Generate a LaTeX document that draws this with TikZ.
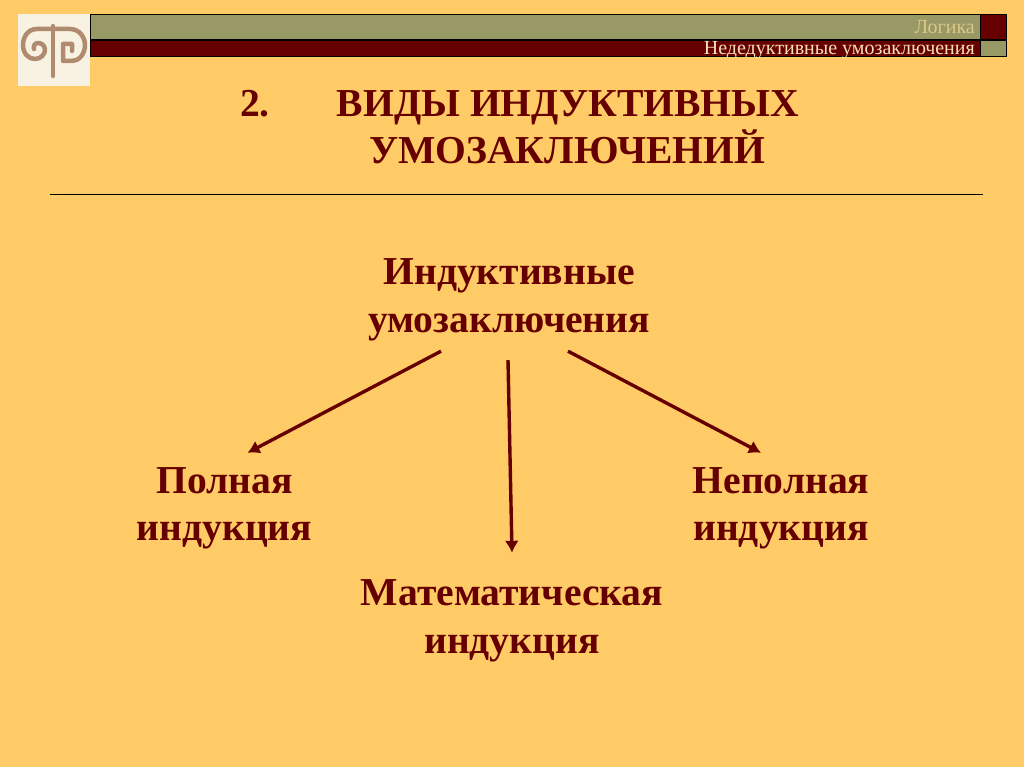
\documentclass[tikz,border=0pt]{standalone}
\usepackage{fontspec}
\setmainfont{Liberation Serif}
\usepackage{xcolor}
\usetikzlibrary{arrows.meta,positioning,calc}
\definecolor{bgcol}{HTML}{FFCB66}
\definecolor{darkred}{HTML}{660000}
\definecolor{olivebar}{HTML}{999966}
\definecolor{logocol}{HTML}{B08B70}
\definecolor{logobg}{HTML}{F8F2E2}
\definecolor{paletext}{HTML}{DCC688}
\definecolor{lighttext}{HTML}{F6E0B8}
\begin{document}
\begin{tikzpicture}[
  x=1pt, y=-1pt,
  label/.style={align=center, text=darkred, font=\fontsize{39.6}{47.5}\selectfont\bfseries, inner sep=0pt},
  head/.style={align=center, text=darkred, font=\fontsize{39.6}{48}\selectfont\bfseries, inner sep=0pt},
  bar/.style={draw=black, line width=1pt},
  arr/.style={-{Latex[length=12pt,width=14pt]}, line width=3.4pt, darkred},
  logoline/.style={draw=logocol, line width=4.5pt, line cap=round, line join=round}
]
  \useasboundingbox (0,0) rectangle (1024,767);
  \fill[bgcol] (0,0) rectangle (1024,767);

  % top bars
  \draw[bar, fill=olivebar] (90,15) rectangle (980,40);
  \draw[bar, fill=darkred] (90,41) rectangle (980,57);
  \draw[bar, fill=darkred] (980,15) rectangle (1006,40);
  \draw[bar, fill=olivebar] (980,41) rectangle (1006,57);
  \node[anchor=east, inner sep=0pt, text=paletext, font=\fontsize{20}{20}\selectfont] (logika) at (975,27) {Логика};
  \node[anchor=east, inner sep=0pt, text=lighttext, font=\fontsize{20}{20}\selectfont] (nedukt) at (975,50) {Недедуктивные умозаключения};

  % logo
  \fill[logobg] (18,14) rectangle (90,86);
  \draw[logoline] (53,26) -- (53,76);
  \draw[logoline] (53,29) -- (37,29) .. controls (27,29) and (23,38) .. (23,45)
    .. controls (23,54) and (29,59) .. (35,59) .. controls (41,59) and (45,54) .. (45,50)
    .. controls (45,45) and (41,43) .. (38,43) .. controls (35,43) and (33,46) .. (34,49);
  \draw[logoline] (53,29) -- (70,29) .. controls (80,29) and (85,38) .. (85,45)
    .. controls (85,54) and (79,61) .. (72,61) -- (63,61) -- (63,44) -- (72,44) -- (72,51);

  % title
  \node[head, anchor=base] (num) at (255,117) {2.};
  \node[head, anchor=base] (title1) at (568,117) {ВИДЫ ИНДУКТИВНЫХ};
  \node[head, anchor=base] (title2) at (567,164) {УМОЗАКЛЮЧЕНИЙ};
  \draw[black, line width=1pt] (50,194.5) -- (983,194.5);

  % diagram
  \node[label] (ind) at (509,300) {Индуктивные\\умозаключения};
  \node[label] (poln) at (224.5,508.5) {Полная\\индукция};
  \node[label] (nepoln) at (781,508.5) {Неполная\\индукция};
  \node[label] (matem) at (512,621) {Математическая\\индукция};

  \draw[arr] ([xshift=-68pt,yshift=-10pt]ind.south) -- ([xshift=23pt,yshift=14.5pt]poln.north);
  \draw[arr] ([xshift=-1pt,yshift=-19pt]ind.south) -- ([yshift=27pt]matem.north);
  \draw[arr] ([xshift=59pt,yshift=-10pt]ind.south) -- ([xshift=-20pt,yshift=14.5pt]nepoln.north);
\end{tikzpicture}
\end{document}
